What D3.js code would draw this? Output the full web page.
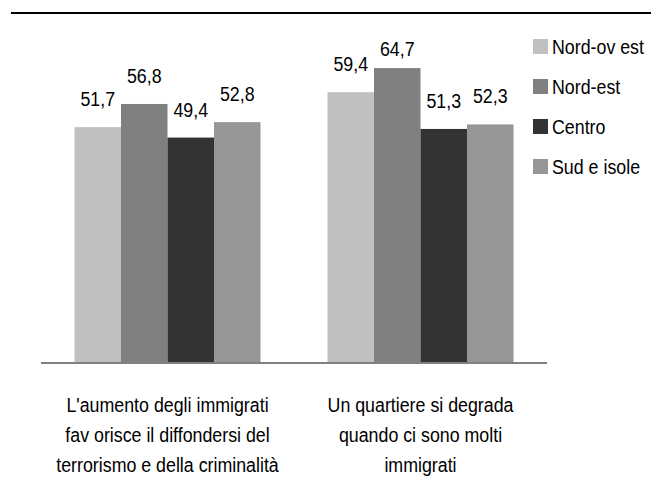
<!DOCTYPE html>
<html>
<head>
<meta charset="utf-8">
<script src="https://cdn.jsdelivr.net/npm/d3@7"></script>
<style>
  body { margin: 0; background: #fff; }
  svg text { font-family: 'Liberation Sans', Arial, sans-serif; fill: #000; }
</style>
</head>
<body>
<div id="chart"></div>
<script>
// data
const categories = ['immigrati-criminalita', 'quartiere-degrado']
const categoryLines = [
  ["L'aumento degli immigrati", 'fav orisce il diffondersi del', 'terrorismo e della criminalità'],
  ['Un quartiere si degrada', 'quando ci sono molti', 'immigrati']
]
const seriesNames = ['Nord-ov est', 'Nord-est', 'Centro', 'Sud e isole']
const nordOvest = [51.7, 59.4]
const nordEst = [56.8, 64.7]
const centro = [49.4, 51.3]
const sudIsole = [52.8, 52.3]
const seriesValues = [nordOvest, nordEst, centro, sudIsole]
const seriesColors = ['#c0c0c0', '#808080', '#333333', '#969696']

const width = 651
const height = 481
const baseline = 362
// the reference font is a narrow one, squeeze the sans a bit
const squeeze = 0.89

const svg = d3.select('#chart')
  .append('svg')
  .attr('width', width)
  .attr('height', height)

// rule at the very top
svg.append('line')
  .attr('x1', 11).attr('x2', width)
  .attr('y1', 13).attr('y2', 13)
  .attr('stroke', '#000')
  .attr('stroke-width', 2)

const x0 = d3.scaleBand()
  .domain(categories)
  .range([41, 547])

const groupW = 186
const x1 = d3.scaleBand()
  .domain(seriesNames)
  .range([(x0.bandwidth() - groupW) / 2, (x0.bandwidth() + groupW) / 2])

const y = d3.scaleLinear()
  .domain([0, 70])
  .range([baseline, baseline - 318])

const rows = []
categories.forEach((c, ci) => {
  seriesNames.forEach((s, si) => {
    rows.push({ cat: c, series: s, value: seriesValues[si][ci], color: seriesColors[si] })
  })
})

const fmt = v => d3.format('.1f')(v).replace('.', ',')

svg.append('g').attr('id', 'bars')
  .selectAll('rect')
  .data(rows)
  .enter()
  .append('rect')
    .attr('x', d => x0(d.cat) + x1(d.series))
    .attr('y', d => y(d.value))
    .attr('width', x1.bandwidth())
    .attr('height', d => baseline - y(d.value))
    .attr('fill', d => d.color)

// value labels, pushed down when they would run off the top
svg.append('g').attr('id', 'labels')
  .selectAll('text')
  .data(rows)
  .enter()
  .append('text')
    .attr('transform', d => {
      const tx = x0(d.cat) + x1(d.series) + x1.bandwidth() / 2
      const ty = Math.max(y(d.value) - 21, 56)
      return `translate(${tx},${ty}) scale(${squeeze},1)`
    })
    .attr('text-anchor', 'middle')
    .attr('font-size', 20)
    .text(d => fmt(d.value))

// category axis line
svg.append('line')
  .attr('x1', 41).attr('x2', 547)
  .attr('y1', baseline + 1).attr('y2', baseline + 1)
  .attr('stroke', '#808080')
  .attr('stroke-width', 2)

const catLabels = svg.append('g').attr('id', 'cats')
  .selectAll('text')
  .data(categories)
  .enter()
  .append('text')
    .attr('transform', d => `translate(${x0(d) + x0.bandwidth() / 2},412) scale(${squeeze},1)`)
    .attr('text-anchor', 'middle')
    .attr('font-size', 20)

catLabels.selectAll('tspan')
  .data((d, i) => categoryLines[i])
  .enter()
  .append('tspan')
    .attr('x', 0)
    .attr('y', (d, i) => i * 30)
    .text(d => d)

// legend
const legend = svg.append('g').attr('id', 'legend')
  .selectAll('g')
  .data(seriesNames)
  .enter()
  .append('g')
    .attr('transform', (d, i) => `translate(533, ${39 + i * 40})`)

legend.append('rect')
  .attr('width', 15)
  .attr('height', 15)
  .attr('fill', (d, i) => seriesColors[i])

legend.append('text')
  .attr('transform', `translate(19,15) scale(${squeeze},1)`)
  .attr('font-size', 20)
  .text(d => d)
</script>
</body>
</html>
